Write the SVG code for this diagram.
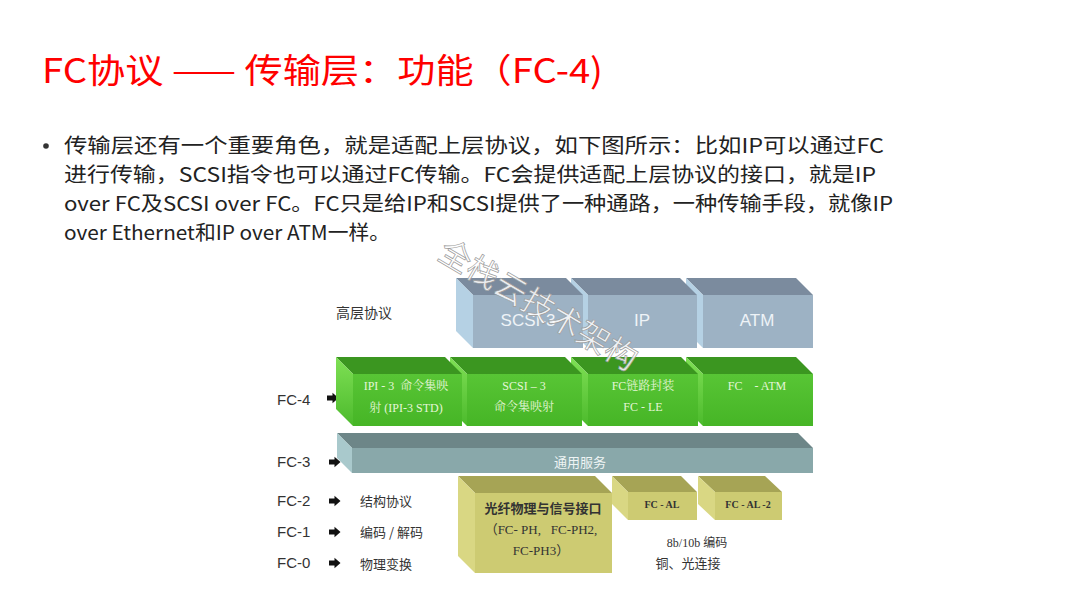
<svg xmlns="http://www.w3.org/2000/svg" width="1080" height="608" viewBox="0 0 1080 608">
<defs>
<path id="arr" d="M0,-2.4 H5.5 V-5.2 L11.5,0 L5.5,5.2 V2.4 H0 Z" fill="#111"/>
<linearGradient id="gFront" x1="0" y1="0" x2="0" y2="1"><stop offset="0" stop-color="#58c535"/><stop offset="1" stop-color="#46b526"/></linearGradient>
<linearGradient id="gLeft" x1="0" y1="0" x2="0" y2="1"><stop offset="0" stop-color="#7fe055"/><stop offset="1" stop-color="#4cba2c"/></linearGradient>
</defs>
<style>
.title{font-family:"Noto Sans CJK SC","Liberation Sans",sans-serif;font-size:34px;fill:#ff0000}
.body{font-family:"Noto Sans CJK SC","Liberation Sans",sans-serif;font-size:20px;fill:#222}
.lab{font-family:"Liberation Sans","Noto Sans CJK SC",sans-serif;font-size:15px;fill:#333}
.cn{font-family:"Noto Sans CJK SC",sans-serif;font-size:13px;fill:#333}
.bt{font-family:"Liberation Sans",sans-serif;font-size:17px;fill:#eef3f7;text-anchor:middle}
.gt{font-family:"Liberation Serif","Noto Serif CJK SC","Noto Sans CJK SC",serif;font-size:12px;fill:#e4f6d8;text-anchor:middle}
.yt{font-family:"Liberation Serif","Noto Sans CJK SC",serif;font-size:13px;fill:#333;text-anchor:middle}
.ys{font-family:"Liberation Serif",serif;font-size:10px;font-weight:bold;fill:#333;text-anchor:middle}
.wm{font-family:"Noto Sans CJK SC",sans-serif;font-size:32px;fill:#ffffff;fill-opacity:0.85;stroke:#9a9a9a;stroke-width:0.7}
.bTop{fill:#7b8b9e}.bLeft{fill:#b5d1e4}.bFront{fill:#9db2c4}
.gTop{fill:#3b9620}.gLeft{fill:url(#gLeft)}.gFront{fill:url(#gFront)}
.tTop{fill:#6d8688}.tLeft{fill:#a9c9cc}.tFront{fill:#89a8aa}
.yTop{fill:#a6a455}.yLeft{fill:#d9d783}.yFront{fill:#cdcb72}
</style>
<rect width="1080" height="608" fill="#ffffff"/>

<text class="title" x="42" y="83" textLength="561" lengthAdjust="spacingAndGlyphs">FC协议 —— 传输层：功能（FC-4)</text>

<g id="bullet">
<circle cx="46" cy="146" r="2.8" fill="#333"/>
<text class="body" x="64" y="153" textLength="820" lengthAdjust="spacingAndGlyphs">传输层还有一个重要角色，就是适配上层协议，如下图所示：比如IP可以通过FC</text>
<text class="body" x="64" y="182" textLength="812" lengthAdjust="spacingAndGlyphs">进行传输，SCSI指令也可以通过FC传输。FC会提供适配上层协议的接口，就是IP</text>
<text class="body" x="64" y="211" textLength="829" lengthAdjust="spacingAndGlyphs">over FC及SCSI over FC。FC只是给IP和SCSI提供了一种通路，一种传输手段，就像IP</text>
<text class="body" x="64" y="240" textLength="326" lengthAdjust="spacingAndGlyphs">over Ethernet和IP over ATM一样。</text>
</g>

<g id="labels">
<text class="cn" x="336" y="318" style="font-size:14px">高层协议</text>
<text class="lab" x="277" y="405">FC-4</text>
<text class="lab" x="277" y="467">FC-3</text>
<text class="lab" x="277" y="506">FC-2</text>
<text class="lab" x="277" y="537">FC-1</text>
<text class="lab" x="277" y="568">FC-0</text>
<text class="cn" x="360" y="506">结构协议</text>
<text class="cn" x="360" y="537">编码 / 解码</text>
<text class="cn" x="360" y="569">物理变换</text>
</g>

<g id="arrows">
<use href="#arr" x="327" y="398"/>
<use href="#arr" x="329" y="462"/>
<use href="#arr" x="329" y="501"/>
<use href="#arr" x="329" y="532"/>
<use href="#arr" x="329" y="563"/>
</g>

<g id="node-atm">
<polygon class="bTop" points="686,278 796,278 813,295 703,295"/>
<polygon class="bLeft" points="686,278 703,295 703,348 686,331"/>
<rect class="bFront" x="703" y="295" width="110" height="53"/>
<text class="bt" x="757" y="326">ATM</text>
</g>
<g id="node-ip">
<polygon class="bTop" points="571,278 680,278 697,295 588,295"/>
<polygon class="bLeft" points="571,278 588,295 588,348 571,331"/>
<rect class="bFront" x="588" y="295" width="109" height="53"/>
<text class="bt" x="642" y="326">IP</text>
</g>
<g id="node-scsi">
<polygon class="bTop" points="456,278 566,278 583,295 473,295"/>
<polygon class="bLeft" points="456,278 473,295 473,348 456,331"/>
<rect class="bFront" x="473" y="295" width="110" height="53"/>
<text class="bt" x="528" y="326">SCSI-3</text>
</g>

<g id="node-fcatm">
<polygon class="gTop" points="686,357 796,357 813,374 703,374"/>
<polygon class="gLeft" points="686,357 703,374 703,426 686,409"/>
<rect class="gFront" x="703" y="374" width="110" height="52"/>
<text class="gt" x="757" y="390" xml:space="preserve">FC    - ATM</text>
</g>
<g id="node-fcle">
<polygon class="gTop" points="571,357 681,357 698,374 588,374"/>
<polygon class="gLeft" points="571,357 588,374 588,426 571,409"/>
<rect class="gFront" x="588" y="374" width="110" height="52"/>
<text class="gt" x="643" y="390">FC链路封装</text>
<text class="gt" x="643" y="411">FC - LE</text>
</g>
<g id="node-scsi3map">
<polygon class="gTop" points="450,357 565,357 582,374 467,374"/>
<polygon class="gLeft" points="450,357 467,374 467,426 450,409"/>
<rect class="gFront" x="467" y="374" width="115" height="52"/>
<text class="gt" x="524" y="390">SCSI – 3</text>
<text class="gt" x="524" y="411">命令集映射</text>
</g>
<g id="node-ipi3">
<polygon class="gTop" points="336,357 445,357 462,374 353,374"/>
<polygon class="gLeft" points="336,357 353,374 353,426 336,409"/>
<rect class="gFront" x="353" y="374" width="109" height="52"/>
<text class="gt" x="406" y="390" xml:space="preserve">IPI - 3  命令集映</text>
<text class="gt" x="406" y="412">射 (IPI-3 STD)</text>
</g>

<g id="node-fc3">
<polygon class="tTop" points="337,433 798,433 813,448 352,448"/>
<polygon class="tLeft" points="337,433 352,448 352,473 337,458"/>
<rect class="tFront" x="352" y="448" width="461" height="25"/>
<text x="580" y="467" style="font-family:'Noto Sans CJK SC',sans-serif;font-size:13px;fill:#eef4f4;text-anchor:middle">通用服务</text>
</g>

<g id="node-fcph">
<polygon class="yTop" points="458,476 595,476 612,493 475,493"/>
<polygon class="yLeft" points="458,476 475,493 475,573 458,556"/>
<rect class="yFront" x="475" y="493" width="137" height="80"/>
<text class="yt" x="543" y="513" style="font-family:'Noto Sans CJK SC',sans-serif;font-size:13px;font-weight:bold">光纤物理与信号接口</text>
<text class="yt" x="541" y="534" xml:space="preserve">（FC- PH,   FC-PH2,</text>
<text class="yt" x="541" y="555">FC-PH3）</text>
</g>
<g id="node-fcal">
<polygon class="yTop" points="612,476 681,476 697,492 628,492"/>
<polygon class="yLeft" points="612,476 628,492 628,520 612,504"/>
<rect class="yFront" x="628" y="492" width="69" height="28"/>
<text class="ys" x="662" y="508">FC - AL</text>
</g>
<g id="node-fcal2">
<polygon class="yTop" points="698,476 765,476 782,492 715,492"/>
<polygon class="yLeft" points="698,476 715,492 715,520 698,504"/>
<rect class="yFront" x="715" y="492" width="67" height="28"/>
<text class="ys" x="748" y="508">FC - AL -2</text>
</g>

<g id="notes">
<text x="697" y="547" style="font-family:'Liberation Serif','Noto Sans CJK SC',serif;font-size:12px;fill:#333;text-anchor:middle">8b/10b 编码</text>
<text x="688" y="568" style="font-family:'Noto Sans CJK SC',sans-serif;font-size:13px;fill:#333;text-anchor:middle">铜、光连接</text>
</g>

<text class="wm" x="436" y="258" transform="rotate(30.5 436 258)">全栈云技术架构</text>
</svg>
